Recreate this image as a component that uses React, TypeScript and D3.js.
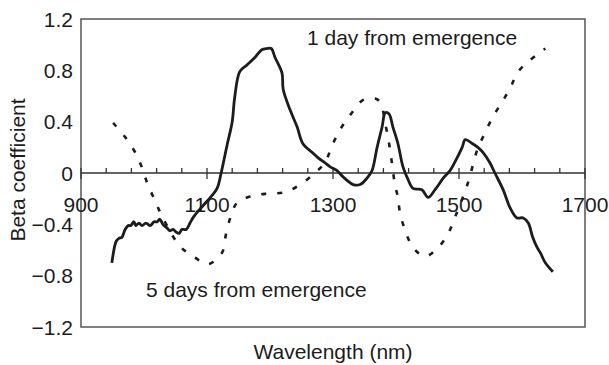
import * as d3 from "d3"

// 1 day from emergence (solid)
const day1Wave = [949, 956, 960, 965, 970, 975, 979, 984, 987, 992, 997, 1003, 1010, 1016, 1021, 1025, 1030, 1037, 1041, 1046, 1051, 1056, 1060, 1067, 1073, 1079, 1089, 1100, 1116, 1122, 1132, 1140, 1144, 1152, 1163, 1176, 1187, 1195, 1202, 1208, 1219, 1221, 1232, 1243, 1252, 1267, 1276, 1287, 1295, 1306, 1316, 1332, 1343, 1354, 1362, 1370, 1378, 1383, 1389, 1395, 1403, 1411, 1419, 1427, 1441, 1451, 1462, 1475, 1486, 1494, 1505, 1510, 1521, 1530, 1538, 1549, 1557, 1570, 1581, 1592, 1602, 1610, 1617, 1624, 1629, 1637, 1649]
const day1Beta = [-0.70, -0.53, -0.51, -0.50, -0.44, -0.41, -0.41, -0.38, -0.41, -0.39, -0.41, -0.39, -0.41, -0.38, -0.38, -0.36, -0.40, -0.43, -0.45, -0.44, -0.46, -0.47, -0.44, -0.44, -0.39, -0.34, -0.28, -0.22, -0.12, -0.01, 0.22, 0.40, 0.59, 0.79, 0.84, 0.90, 0.96, 0.97, 0.97, 0.90, 0.78, 0.65, 0.49, 0.36, 0.23, 0.16, 0.12, 0.08, 0.05, 0.02, -0.03, -0.09, -0.09, -0.04, 0.02, 0.20, 0.36, 0.47, 0.46, 0.36, 0.23, 0.05, -0.05, -0.12, -0.13, -0.19, -0.13, -0.04, 0.02, 0.09, 0.20, 0.26, 0.23, 0.20, 0.16, 0.08, 0.00, -0.13, -0.27, -0.35, -0.35, -0.39, -0.50, -0.58, -0.62, -0.70, -0.77]

// 5 days from emergence (dashed)
const day5Wave = [951, 970, 986, 997, 1006, 1017, 1029, 1057, 1081, 1102, 1124, 1130, 1137, 1148, 1171, 1197, 1224, 1248, 1271, 1287, 1300, 1314, 1330, 1348, 1367, 1375, 1384, 1390, 1394, 1398, 1403, 1406, 1414, 1427, 1446, 1467, 1483, 1494, 1514, 1529, 1541, 1554, 1568, 1581, 1594, 1613, 1637]
const day5Beta = [0.39, 0.28, 0.16, 0.04, -0.09, -0.21, -0.34, -0.57, -0.66, -0.71, -0.62, -0.48, -0.35, -0.23, -0.18, -0.16, -0.15, -0.09, 0.00, 0.08, 0.23, 0.36, 0.47, 0.57, 0.58, 0.55, 0.36, 0.20, 0.06, -0.08, -0.19, -0.30, -0.44, -0.58, -0.65, -0.58, -0.47, -0.34, -0.08, 0.18, 0.31, 0.44, 0.55, 0.66, 0.79, 0.88, 0.97]

const xTickLabels = [900, 1100, 1300, 1500, 1700]
const yTickValues = [1.2, 0.8, 0.4, 0, -0.4, -0.8, -1.2]

export default function App() {
    const width = 609
    const height = 365
    const left = 81
    const right = 585
    const top = 19
    const bottom = 327

    const x = d3.scaleLinear().domain([900, 1700]).range([left, right])
    const y = d3.scaleLinear().domain([-1.2, 1.2]).range([bottom, top])

    const minorTicks = d3.range(900, 1701, 40)

    const line = d3
        .line<[number, number]>()
        .x((d) => x(d[0]))
        .y((d) => y(d[1]))
        .curve(d3.curveCatmullRom)

    const solidPath = line(day1Wave.map((w, i) => [w, day1Beta[i]]))
    const dashedPath = line(day5Wave.map((w, i) => [w, day5Beta[i]]))

    const font = "'Liberation Sans', Arial, sans-serif"
    const ink = "#1c1c1c"
    const fs = 21

    const fmt = (v: number) => (v === 0 ? "0" : v.toFixed(1).replace("-", "\u2212"))

    return (
        <div style={{ position: "fixed", left: 0, top: 0 }}>
            <svg width={width} height={height} style={{ display: "block", background: "#fff" }}>
                {/* frame */}
                <rect
                    x={left}
                    y={top}
                    width={right - left}
                    height={bottom - top}
                    fill="none"
                    stroke="#555"
                    strokeWidth={1.5}
                />

                {/* zero axis */}
                <line x1={left} x2={right} y1={y(0)} y2={y(0)} stroke="#333" strokeWidth={1.5} />
                {minorTicks.map((t) => {
                    const major = xTickLabels.includes(t)
                    return (
                        <line
                            key={t}
                            x1={x(t)}
                            x2={x(t)}
                            y1={y(0) - 5}
                            y2={y(0) + (major ? 6 : 0)}
                            stroke="#333"
                            strokeWidth={1.3}
                        />
                    )
                })}

                {/* x tick labels */}
                {xTickLabels.map((t) => (
                    <text
                        key={t}
                        x={x(t)}
                        y={212}
                        textAnchor="middle"
                        fontSize={fs}
                        fontFamily={font}
                        fill={ink}
                    >
                        {t}
                    </text>
                ))}

                {/* y tick labels */}
                {yTickValues.map((v) => (
                    <text
                        key={v}
                        x={73}
                        y={y(v)}
                        dy="0.36em"
                        textAnchor="end"
                        fontSize={fs}
                        fontFamily={font}
                        fill={ink}
                    >
                        {fmt(v)}
                    </text>
                ))}

                {/* series */}
                <path d={dashedPath ?? ""} fill="none" stroke={ink} strokeWidth={2.6} strokeDasharray="5 11" />
                <path d={solidPath ?? ""} fill="none" stroke={ink} strokeWidth={2.8} strokeLinejoin="round" />

                {/* annotations */}
                <text x={307} y={45} fontSize={fs} fontFamily={font} fill={ink}>
                    1 day from emergence
                </text>
                <text x={146} y={297} fontSize={fs} fontFamily={font} fill={ink}>
                    5 days from emergence
                </text>

                {/* axis titles */}
                <text
                    x={333}
                    y={359}
                    textAnchor="middle"
                    fontSize={fs}
                    fontFamily={font}
                    fill={ink}
                >
                    Wavelength (nm)
                </text>
                <text
                    transform={`translate(25,170) rotate(-90)`}
                    textAnchor="middle"
                    fontSize={fs}
                    fontFamily={font}
                    fill={ink}
                >
                    Beta coefficient
                </text>
            </svg>
        </div>
    )
}
